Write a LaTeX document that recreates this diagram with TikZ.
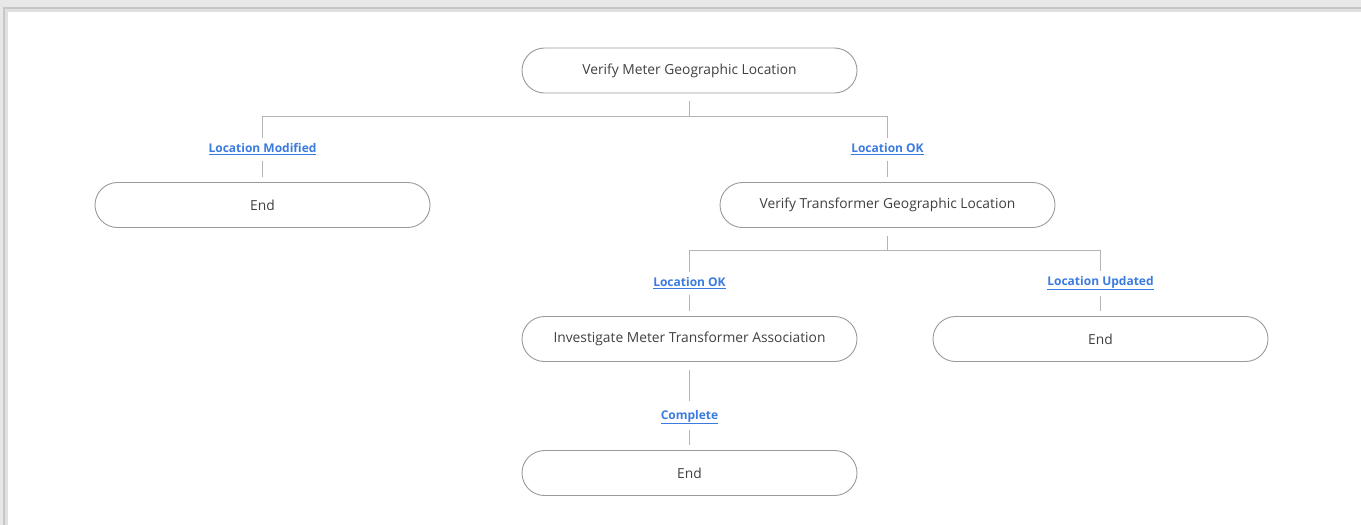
\documentclass[tikz,border=0pt]{standalone}
\usepackage{fontspec}
\setmainfont{Open Sans}
\usetikzlibrary{shapes.misc}
\definecolor{bgray}{HTML}{E8E8E8}
\definecolor{edgegray}{HTML}{9A9A9A}
\definecolor{linegray}{HTML}{B4B4B4}
\definecolor{txtgray}{HTML}{404040}
\definecolor{linkblue}{HTML}{3A7BE0}
\tikzset{
  stepbox/.style={draw=edgegray, line width=0.9pt, fill=white, rounded rectangle,
    minimum width=335pt, minimum height=45pt, text=txtgray, font=\fontsize{13.8}{16}\selectfont,
    inner sep=0pt},
  lbl/.style={text=linkblue, font=\bfseries\fontsize{12}{14}\selectfont, inner sep=1pt},
  conn/.style={draw=linegray, line width=1pt},
}
\begin{document}
\begin{tikzpicture}[x=1pt,y=-1pt]
\useasboundingbox (0,0) rectangle (1361,525);
\fill[bgray] (0,0) rectangle (1361,525);
\fill[black!22] (3,7) rectangle (1361,525);
\fill[black!12] (5,9) rectangle (1361,525);
\fill[white] (8,12) rectangle (1361,525);

\node[stepbox] (a) at (689.5,70.5) {Verify Meter Geographic Location};
\node[stepbox] (e1) at (262.5,205) {End};
\node[stepbox] (b) at (887.5,205) {Verify Transformer Geographic Location};
\node[stepbox] (c) at (689.5,339) {Investigate Meter Transformer Association};
\node[stepbox] (e2) at (1100.5,339) {End};
\node[stepbox] (e3) at (689.5,473) {End};

\node[lbl] (l1) at (262.5,149) {\underline{Location Modified}};
\node[lbl] (l2) at (887.5,149) {\underline{Location OK}};
\node[lbl] (l3) at (689.5,283) {\underline{Location OK}};
\node[lbl] (l4) at (1100.5,283) {\underline{Location Updated}};
\node[lbl] (l5) at (689.5,417) {\underline{Complete}};

\coordinate (j1) at (689.5,116);
\coordinate (j2) at (887.5,250);

\draw[conn] ([yshift=-8pt]a.south) -- (j1);
\draw[conn] (j1) -| ([yshift=4pt]l1.north);
\draw[conn] (j1) -| ([yshift=4pt]l2.north);
\draw[conn] ([yshift=-5pt]l1.south) -- ([yshift=5pt]e1.north);
\draw[conn] ([yshift=-5pt]l2.south) -- ([yshift=5pt]b.north);

\draw[conn] ([yshift=-8pt]b.south) -- (j2);
\draw[conn] (j2) -| ([yshift=4pt]l3.north);
\draw[conn] (j2) -| ([yshift=4pt]l4.north);
\draw[conn] ([yshift=-5pt]l3.south) -- ([yshift=5pt]c.north);
\draw[conn] ([yshift=-5pt]l4.south) -- ([yshift=5pt]e2.north);

\draw[conn] ([yshift=-8pt]c.south) -- ([yshift=8pt]l5.north);
\draw[conn] ([yshift=-5pt]l5.south) -- ([yshift=5pt]e3.north);
\end{tikzpicture}
\end{document}
